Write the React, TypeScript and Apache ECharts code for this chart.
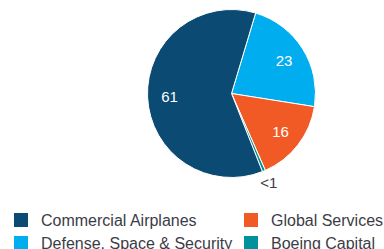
import React, { useEffect, useRef } from "react";
import * as echarts from "echarts";

const categories = ["Defense, Space & Security", "Global Services", "Boeing Capital", "Commercial Airplanes"];
const values = [23, 16, 0.6, 61];
const labels = ["23", "16", "<1", "61"];
const colors = ["#00adef", "#f15a24", "#00929c", "#0b4a72"];
const leftLegend = ["Commercial Airplanes", "Defense, Space & Security"];
const rightLegend = ["Global Services", "Boeing Capital"];

export default function App() {
  const ref = useRef<HTMLDivElement>(null);
  useEffect(() => {
    if (!ref.current) return;
    const chart = echarts.init(ref.current, null, { renderer: "svg" });
    const data = categories.map((c, i) => ({ name: c, value: values[i], itemStyle: { color: colors[i] } }));
    const base = {
      type: "pie",
      center: [231.5, 93.5],
      startAngle: 73.3,
      clockwise: true,
      animation: false,
      avoidLabelOverlap: false,
      minAngle: 0,
      percentPrecision: 4,
    };
    const legendCommon = {
      orient: "vertical",
      top: 211,
      height: 100,
      padding: 0,
      itemWidth: 16,
      itemHeight: 16,
      itemGap: 5,
      icon: "rect",
      selectedMode: false,
      textStyle: { fontSize: 16, color: "#3c3c46", fontFamily: "Liberation Sans", padding: [0, 0, 0, 7] },
    };
    chart.setOption({
      animation: false,
      legend: [
        { ...legendCommon, left: 12, data: leftLegend },
        { ...legendCommon, left: 242, data: rightLegend },
      ],
      series: [
        {
          ...base,
          name: "main",
          radius: [0, 84],
          label: { show: false },
          labelLine: { show: false },
          itemStyle: { borderColor: "#ffffff", borderWidth: 1 },
          data,
        },
        {
          ...base,
          name: "labels",
          radius: [0, 118],
          silent: true,
          legendHoverLink: false,
          labelLine: { show: false },
          label: {
            show: true,
            position: "inside",
            color: "#ffffff",
            fontSize: 15,
            fontFamily: "Liberation Sans",
            formatter: (p: any) => (p.dataIndex === 2 ? "" : labels[p.dataIndex]),
          },
          itemStyle: { color: "rgba(0,0,0,0)" },
          emphasis: { disabled: true },
          data: categories.map((c, i) => ({ name: c, value: values[i] })),
        },
        {
          ...base,
          name: "small",
          radius: [0, 187],
          silent: true,
          legendHoverLink: false,
          labelLine: { show: false },
          label: {
            show: true,
            position: "inside",
            color: "#3c3c46",
            fontSize: 15,
            fontFamily: "Liberation Sans",
            formatter: (p: any) => (p.dataIndex === 2 ? labels[2] : ""),
          },
          itemStyle: { color: "rgba(0,0,0,0)" },
          emphasis: { disabled: true },
          data: categories.map((c, i) => ({ name: c, value: values[i] })),
        },
      ],
    });
    return () => chart.dispose();
  }, []);
  return <div ref={ref} style={{ width: 384, height: 249, position: "absolute", left: 0, top: 0 }} />;
}
